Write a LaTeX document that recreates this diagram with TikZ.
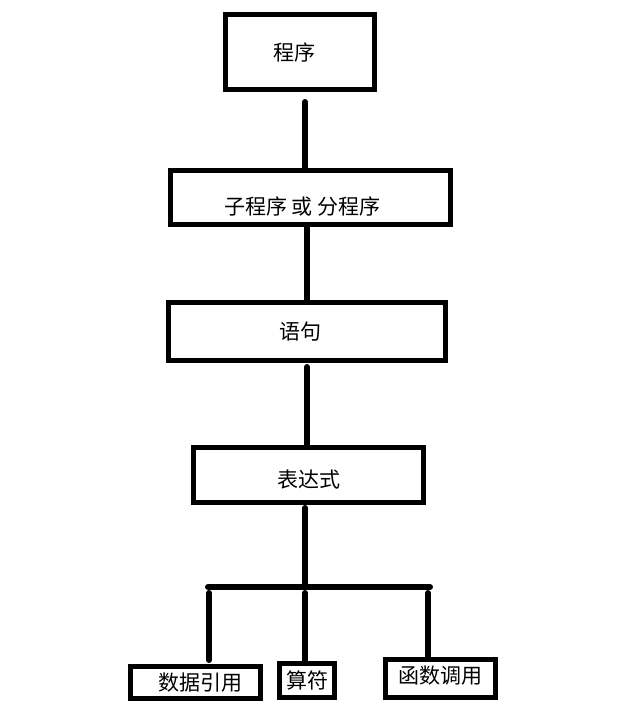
\documentclass[tikz,border=0pt]{standalone}
\usepackage{fontspec}
\newfontfamily\cjk{Noto Sans CJK SC}
\usetikzlibrary{calc}

\begin{document}
\begin{tikzpicture}[x=1pt,y=-1pt,
    box/.style={draw,line width=5pt,inner sep=0pt,font=\cjk\fontsize{21}{21}\selectfont},
    link/.style={line width=6pt,line cap=round}
]
\useasboundingbox (0,0) rectangle (624,723);

% =========================
% Levels
% =========================
\node[box,minimum width=149,minimum height=75] (prog) at (300,52) {\hspace*{-12pt}程序};
\node[box,minimum width=280,minimum height=54] (sub) at (310.5,197.5) {\hspace*{-16pt}\raisebox{-9pt}[\height][\depth]{子程序 或 分程序}};
\node[box,minimum width=277,minimum height=58] (stmt) at (307,331.5) {\hspace*{-14pt}语句};
\node[box,minimum width=230,minimum height=55] (expr) at (308.5,475) {\raisebox{-5pt}[\height][\depth]{表达式}};

% =========================
% Parts of an expression
% =========================
\node[box,minimum width=130,minimum height=32] (data) at (195.5,682.5) {\hspace*{10pt}数据引用};
\node[box,minimum width=55,minimum height=34] (op) at (307,680.5) {算符};
\node[box,minimum width=110,minimum height=38] (call) at (440.5,678.5) {\raisebox{3pt}[\height][\depth]{函数调用}};

% branch bar
\coordinate (bar) at (305,587);
\coordinate (barL) at (208,587);
\coordinate (barR) at (430,587);
\coordinate (dropL) at (209,593);
\coordinate (dropM) at (305,593);
\coordinate (dropR) at (428,593);

% =========================
% Connectors
% =========================
\draw[link,shorten <=10pt] ([xshift=5]prog.south) -- ([xshift=5]prog.south |- sub.north);
\draw[link] (stmt.north) -- (stmt.north |- sub.south);
\draw[link,shorten <=4pt] (stmt.south) -- (stmt.south |- expr.north);
\draw[link,shorten <=3pt] ([xshift=-3.5]expr.south) -- (bar);
\draw[link] (barL) -- (barR);

% drops to the leaves
\draw[link,shorten >=4pt] (dropL) -- (dropL |- data.north);
\draw[link] (dropM) -- (dropM |- op.north);
\draw[link] (dropR) -- (dropR |- call.north);

\end{tikzpicture}
\end{document}
